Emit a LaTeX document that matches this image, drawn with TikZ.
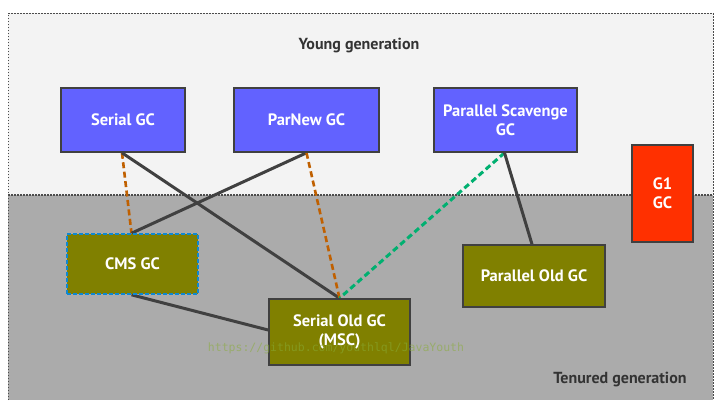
\documentclass[tikz,border=0pt]{standalone}
\usepackage{fontspec}
\setmainfont{PT Sans}
\setmonofont{DejaVu Sans Mono}
\begin{document}
\begin{tikzpicture}[x=1pt,y=-1pt,
  gcbox/.style={draw=black!75,line width=1.6pt,text=white,font=\bfseries\fontsize{16.5}{19}\selectfont,align=center,inner sep=0pt},
  young/.style={gcbox,fill=blueA},
  old/.style={gcbox,fill=oliveA},
  solidlink/.style={draw=black!75,line width=3pt},
  orlink/.style={draw=orangeA,line width=2.6pt,dash pattern=on 6pt off 3.5pt},
  grlink/.style={draw=greenA,line width=3pt,dash pattern=on 6pt off 3.5pt},
  region/.style={draw=black!70,line width=1pt,dash pattern=on 1.5pt off 1.5pt},
  label/.style={text=black!80,font=\bfseries\fontsize{16}{18}\selectfont}
]
\definecolor{blueA}{HTML}{6262FF}
\definecolor{oliveA}{HTML}{808000}
\definecolor{orangeA}{HTML}{C06000}
\definecolor{greenA}{HTML}{00B070}
\definecolor{redA}{HTML}{FF3000}
\definecolor{grayA}{HTML}{ABABAB}
\definecolor{lightA}{HTML}{F3F3F3}
\useasboundingbox (0,0) rectangle (723,402);
\fill[white] (0,0) rectangle (723,402);
% regions
\fill[lightA] (8,13) rectangle (713,195);
\fill[grayA] (8,195) rectangle (713,400);
\draw[region] (8,400) -- (8,13) -- (713,13) -- (713,400);
\draw[region,line width=1.6pt] (8,195) -- (713,195);
\node[label] (yg) at (359,46) {Young generation};
\node[label] (tg) at (620,380) {Tenured generation};
% nodes
\node[young,minimum width=124pt,minimum height=64pt] (serial) at (123,120) {Serial GC};
\node[young,minimum width=145pt,minimum height=64pt] (parnew) at (306.5,120) {ParNew GC};
\node[young,minimum width=143pt,minimum height=64pt] (ps) at (505.5,120) {Parallel Scavenge\\GC};
\node[gcbox,fill=redA,minimum width=61pt,minimum height=97pt] (g1) at (662.5,193.5) {G1\\GC};
\node[old,draw=cyan!70!blue,dash pattern=on 4pt off 2pt,minimum width=131pt,minimum height=60pt] (cms) at (132.5,264) {CMS GC};
\node[old,minimum width=142pt,minimum height=62pt] (pold) at (534,276) {Parallel Old GC};
\node[old,minimum width=141pt,minimum height=66pt] (sold) at (339.5,332) {Serial Old GC\\(MSC)};
% anchors on borders
\coordinate (serialB) at ([xshift=-1pt]serial.south);
\coordinate (cmsT) at ([xshift=-1pt]cms.north);
\coordinate (soldT) at ([xshift=0pt]sold.north);
\coordinate (cmsB) at ([xshift=-1pt]cms.south);
\coordinate (soldL) at ([yshift=2pt]sold.west);
\coordinate (psB) at ([xshift=-1pt]ps.south);
\coordinate (poldT) at ([xshift=-2pt]pold.north);
% links
\draw[orlink] (serialB) -- (cmsT);
\draw[solidlink] (serialB) -- (soldT);
\draw[solidlink] (parnew.south) -- (cmsT);
\draw[orlink] (parnew.south) -- (soldT);
\draw[grlink] (psB) -- (soldT);
\draw[solidlink] (psB) -- (poldT);
\draw[solidlink] (cmsB) -- (soldL);
% redraw boxes over link ends
\node[young,minimum width=124pt,minimum height=64pt] at (123,120) {Serial GC};
\node[young,minimum width=145pt,minimum height=64pt] at (306.5,120) {ParNew GC};
\node[young,minimum width=143pt,minimum height=64pt] at (505.5,120) {Parallel Scavenge\\GC};
\node[old,draw=cyan!70!blue,dash pattern=on 4pt off 2pt,minimum width=131pt,minimum height=60pt] at (132.5,264) {CMS GC};
\node[old,minimum width=142pt,minimum height=62pt] at (534,276) {Parallel Old GC};
\node[old,minimum width=141pt,minimum height=66pt] at (339.5,332) {Serial Old GC\\(MSC)};
% watermark
\node[text=olive!60!green!80!white,opacity=0.55,font=\ttfamily\fontsize{11.5}{12}\selectfont,inner sep=0pt] (wm) at (336,348) {https://github.com/youthlql/JavaYouth};
\end{tikzpicture}
\end{document}
